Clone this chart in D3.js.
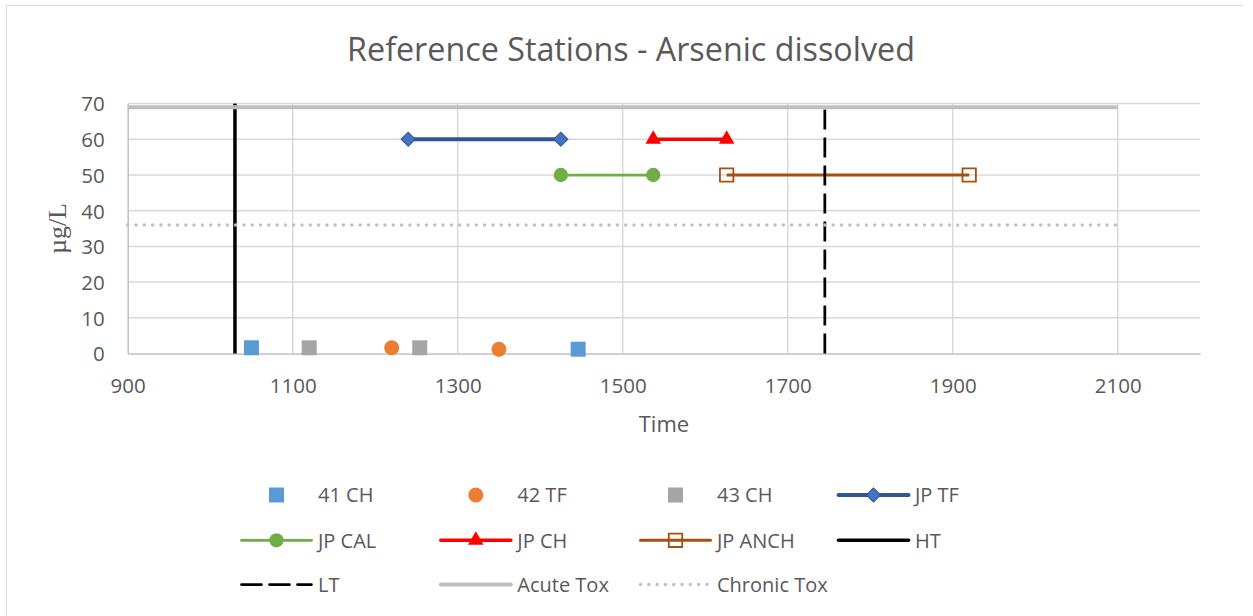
<!DOCTYPE html>
<html>
<head>
<meta charset="utf-8">
<script src="https://cdn.jsdelivr.net/npm/d3@7"></script>
<style>
  html, body { margin: 0; padding: 0; background: #fff; }
  svg text { font-family: "Open Sans", "Noto Sans", sans-serif; fill: #595959; }
</style>
</head>
<body>
<svg id="chart" width="1253" height="616"></svg>
<script>
// ---- data ----
const titleText = "Reference Stations - Arsenic dissolved";
const xAxisTitle = "Time";
const yAxisTitle = "µg/L";
const xTicks = [900, 1100, 1300, 1500, 1700, 1900, 2100];
const yTicks = [0, 10, 20, 30, 40, 50, 60, 70];
const xDomain = [900, 2200];
const yDomain = [0, 70];

const s41CH = [[1050, 1.6], [1446, 1.2]];
const s42TF = [[1220, 1.6], [1350, 1.2]];
const s43CH = [[1120, 1.6], [1254, 1.6]];
const jpTF = [[1240, 60], [1425, 60]];
const jpCAL = [[1425, 50], [1537, 50]];
const jpCH = [[1537, 60], [1626, 60]];
const jpANCH = [[1626, 50], [1920, 50]];
const HT = [[1030, 0], [1030, 70]];
const LT = [[1745, 0], [1745, 70]];
const acuteTox = [[900, 69], [2100, 69]];
const chronicTox = [[900, 36], [2100, 36]];

const seriesNames = ["41 CH", "42 TF", "43 CH", "JP TF", "JP CAL", "JP CH", "JP ANCH", "HT", "LT", "Acute Tox", "Chronic Tox"];
const seriesData = [s41CH, s42TF, s43CH, jpTF, jpCAL, jpCH, jpANCH, HT, LT, acuteTox, chronicTox];

// ---- styles ----
const styles = [
  { line: null, marker: "square", size: 225, fill: "#5b9bd5" },
  { line: null, marker: "circle", size: 177, fill: "#ed7d31" },
  { line: null, marker: "square", size: 225, fill: "#a5a5a5" },
  { line: "#2f5597", width: 4, marker: "diamond", size: 100, fill: "#4472c4", mstroke: "#2f5597" },
  { line: "#70ad47", width: 2.75, marker: "circle", size: 160, fill: "#70ad47" },
  { line: "#ff0000", width: 3.5, marker: "triangle", size: 105, fill: "#ff0000" },
  { line: "#a5500f", width: 3, marker: "square", size: 180, fill: "none", mstroke: "#a5500f", mwidth: 1.8 },
  { line: "#000000", width: 3.5, marker: null },
  { line: "#000000", width: 2.75, dash: "20,8", marker: null },
  { line: "#bfbfbf", width: 4, marker: null },
  { line: "#bfbfbf", width: 3.4, dash: "0,8.3", cap: "round", marker: null }
];

const svg = d3.select("#chart");
const W = 1253, H = 616;
const plot = { left: 127.7, right: 1200.2, top: 103.6, bottom: 353.5 };

const x = d3.scaleLinear().domain(xDomain).range([plot.left, plot.right]);
const y = d3.scaleLinear().domain(yDomain).range([plot.bottom, plot.top]);

// chart border (top + left)
svg.append("line").attr("x1", 6.5).attr("x2", 1243).attr("y1", 5.5).attr("y2", 5.5)
  .attr("stroke", "#d9d9d9").attr("stroke-width", 1);
svg.append("line").attr("x1", 6.5).attr("x2", 6.5).attr("y1", 5.5).attr("y2", H)
  .attr("stroke", "#d9d9d9").attr("stroke-width", 1);

// title
const title = svg.append("text").text(titleText)
  .attr("x", 631).attr("y", 61).attr("text-anchor", "middle")
  .style("font-size", "32px");
const tw = title.node().getComputedTextLength();
title.style("font-size", (32 * 568 / tw) + "px");

// gridlines
const g = svg.append("g");
g.selectAll(".hgrid").data(yTicks.filter(d => d > 0)).join("line")
  .attr("x1", plot.left).attr("x2", plot.right)
  .attr("y1", d => y(d)).attr("y2", d => y(d))
  .attr("stroke", "#d9d9d9").attr("stroke-width", 1.5);
g.selectAll(".vgrid").data(xTicks.filter(d => d > xDomain[0])).join("line")
  .attr("x1", d => x(d)).attr("x2", d => x(d))
  .attr("y1", plot.top).attr("y2", plot.bottom)
  .attr("stroke", "#d9d9d9").attr("stroke-width", 1.5);

// axes
const xAxis = d3.axisBottom(x).tickValues(xTicks).tickFormat(d3.format("d")).tickSize(0).tickPadding(0);
const xg = svg.append("g").attr("transform", `translate(0,${plot.bottom})`).call(xAxis);
xg.select(".domain").attr("stroke", "#bfbfbf").attr("stroke-width", 1.5);
xg.selectAll("text").attr("y", 39.5).attr("dy", null)
  .style("font-size", "20.5px").style("font-family", "'Open Sans', sans-serif").attr("fill", "#595959");

const yAxis = d3.axisLeft(y).tickValues(yTicks).tickFormat(d3.format("d")).tickSize(0).tickPadding(0);
const yg = svg.append("g").attr("transform", `translate(${plot.left},0)`).call(yAxis);
yg.select(".domain").attr("stroke", "#bfbfbf").attr("stroke-width", 1.5);
yg.selectAll("text").attr("x", -23).attr("dy", "0.36em")
  .style("font-size", "20.5px").style("font-family", "'Open Sans', sans-serif").attr("fill", "#595959");

// axis titles
svg.append("text").text(xAxisTitle)
  .attr("x", (plot.left + plot.right) / 2).attr("y", 432)
  .attr("text-anchor", "middle").style("font-size", "22px");
svg.append("text").text(yAxisTitle)
  .attr("transform", `translate(66,${(plot.top + plot.bottom) / 2}) rotate(-90)`)
  .attr("text-anchor", "middle")
  .style("font-family", "'Liberation Serif', 'DejaVu Serif', serif")
  .style("font-size", "26px");

// symbols
function symbolPath(kind, size) {
  if (kind === "square" || kind === "diamond") return d3.symbol(d3.symbolSquare, size)();
  if (kind === "circle") return d3.symbol(d3.symbolCircle, size)();
  if (kind === "triangle") return d3.symbol(d3.symbolTriangle, size)();
  return null;
}
function drawMarker(sel, st, cx, cy) {
  const p = sel.append("path").attr("d", symbolPath(st.marker, st.size))
    .attr("transform", `translate(${cx},${cy})` + (st.marker === "diamond" ? " rotate(45)" : ""))
    .attr("fill", st.fill);
  if (st.mstroke) p.attr("stroke", st.mstroke).attr("stroke-width", st.mwidth || 1);
  return p;
}

const line = d3.line().x(d => x(d[0])).y(d => y(d[1]));
const series = svg.append("g");
seriesData.forEach((data, i) => {
  const st = styles[i];
  const sg = series.append("g");
  if (st.line) {
    sg.append("path").attr("d", line(data)).attr("fill", "none")
      .attr("stroke", st.line).attr("stroke-width", st.width)
      .attr("stroke-dasharray", st.dash || null)
      .attr("stroke-linecap", st.cap || "butt");
  }
  if (st.marker) {
    data.forEach(d => drawMarker(sg, st, x(d[0]), y(d[1])));
  }
});

// legend
const legend = svg.append("g");
const colX = [241.5, 440.8, 640.5, 838.5];
const rowY = [495, 540.3, 584.5];
seriesNames.forEach((name, i) => {
  const st = styles[i];
  const cx = colX[i % 4], cy = rowY[Math.floor(i / 4)];
  const lg = legend.append("g");
  if (st.line) {
    lg.append("line").attr("x1", cx).attr("x2", cx + 70).attr("y1", cy).attr("y2", cy)
      .attr("stroke", st.line).attr("stroke-width", st.width)
      .attr("stroke-dasharray", st.dash || null)
      .attr("stroke-linecap", st.cap || "round");
  }
  if (st.marker) drawMarker(lg, st, cx + 35, cy);
  lg.append("text").text(name).attr("x", cx + 76.5).attr("y", cy).attr("dy", "0.36em")
    .style("font-size", "20px");
});
</script>
</body>
</html>
